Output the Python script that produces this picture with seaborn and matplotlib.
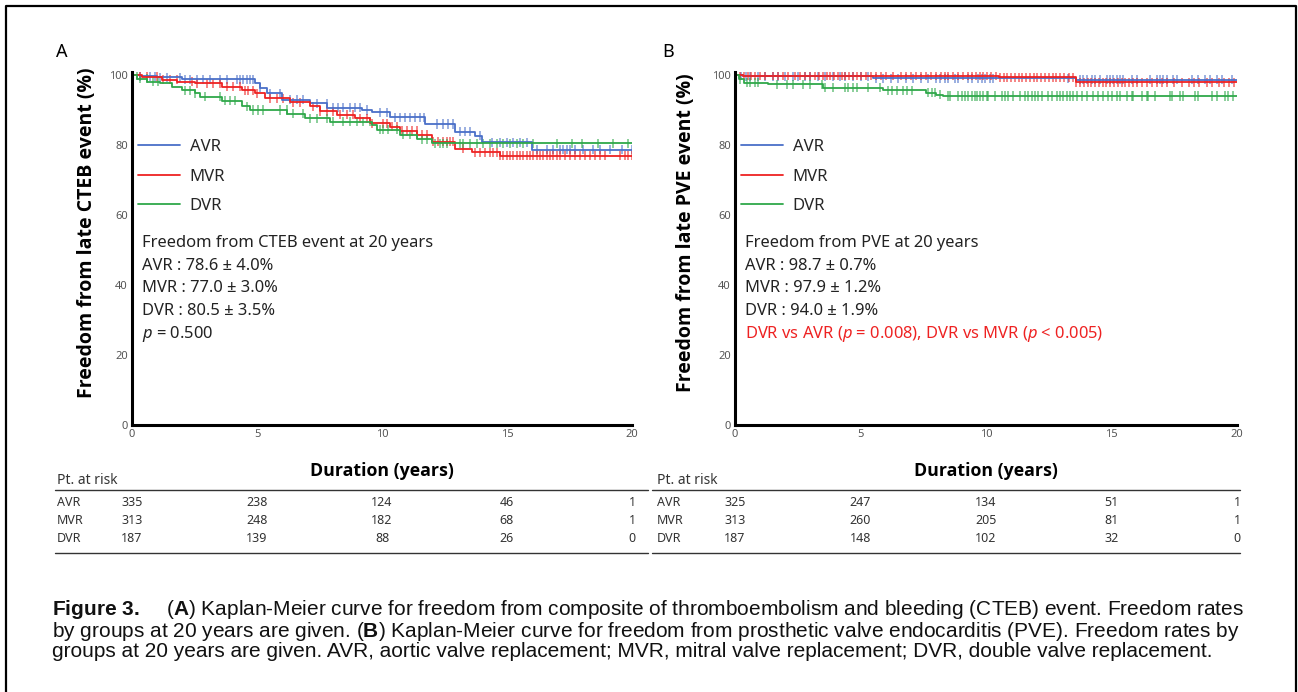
import numpy as np
import pandas as pd
import matplotlib
matplotlib.use("Agg")
import matplotlib.pyplot as plt
import seaborn as sns
from matplotlib.lines import Line2D
from matplotlib import transforms

sns.set_theme(style="white")
plt.rcParams["font.family"] = ["Noto Sans", "DejaVu Sans"]
plt.rcParams["mathtext.fontset"] = "custom"
plt.rcParams["mathtext.rm"] = "Noto Sans"
plt.rcParams["mathtext.it"] = "Noto Sans:italic"
plt.rcParams["mathtext.bf"] = "Liberation Sans:bold"

BOLD_FAMILY = ["Open Sans", "DejaVu Sans"]

# ---------------- data ----------------
groups = ["AVR", "MVR", "DVR"]
colors = {"AVR": "#4a6fc8", "MVR": "#ee2222", "DVR": "#2fa84a"}
x_ticks = [0, 5, 10, 15, 20]
y_ticks = [0, 20, 40, 60, 80, 100]

# Panel A: freedom from late CTEB event
a_avr_t = [0, 0.3, 1.0, 2.0, 4.9, 5.1, 5.4, 6.0, 7.1, 7.8, 9.2, 9.6, 10.3, 11.7, 12.9, 13.7, 14.0, 16.0]
a_avr_s = [100, 99.6, 99.3, 98.8, 97.6, 96.3, 94.8, 93.0, 91.9, 90.7, 90.0, 89.3, 87.9, 86.0, 83.8, 82.6, 80.8, 78.6]
a_mvr_t = [0, 0.4, 1.2, 1.8, 2.5, 3.6, 4.4, 4.9, 5.3, 6.3, 7.1, 7.5, 8.2, 8.9, 9.5, 10.3, 10.7, 11.4, 12.0, 12.9, 13.6, 14.7]
a_mvr_s = [100, 99.5, 98.6, 98.1, 97.6, 96.7, 95.7, 94.8, 93.3, 92.2, 91.1, 89.7, 88.6, 87.6, 86.2, 85.2, 84.0, 82.9, 80.9, 79.0, 77.9, 77.0]
a_dvr_t = [0, 0.2, 0.6, 1.1, 1.6, 2.0, 2.5, 2.7, 3.6, 4.4, 4.7, 6.2, 6.9, 7.9, 9.6, 9.8, 10.7, 11.4, 12.0]
a_dvr_s = [100, 99.0, 98.1, 97.6, 96.7, 95.7, 94.8, 93.8, 92.6, 91.1, 90.0, 89.0, 87.6, 86.7, 85.7, 84.3, 82.9, 81.6, 80.5]

a_avr_cens = [0.32, 0.72, 0.92, 1.12, 1.39, 1.92, 2.12, 2.32, 2.59, 2.85, 3.12, 3.52, 3.79, 4.19, 4.32, 4.45,
              4.59, 4.72, 4.85, 5.12, 5.52, 5.92, 6.32, 6.59, 6.85, 7.39, 7.79, 8.05, 8.25, 8.45, 8.72, 8.92,
              9.12, 9.39, 9.92, 10.19, 10.52, 10.72, 10.92, 11.12, 11.32, 11.52, 11.68, 12.19, 12.45, 12.65,
              12.85, 13.12, 13.32, 13.52, 13.92, 14.39, 14.72, 14.99, 15.25, 15.52, 15.79, 16.19, 16.59, 16.85,
              17.12, 17.25, 17.39, 17.52, 17.72, 18.05, 18.45, 18.72, 19.12, 19.59, 19.98]
a_mvr_cens = [0.32, 0.59, 0.99, 1.25, 1.52, 1.79, 2.39, 2.59, 2.99, 3.25, 3.52, 3.79, 4.05, 4.32, 4.52, 4.65,
              4.85, 4.99, 5.52, 5.79, 6.05, 6.45, 6.72, 7.25, 7.52, 7.79, 8.05, 8.32, 8.59, 8.85, 9.12, 9.39,
              9.59, 10.05, 10.19, 10.39, 10.59, 10.79, 10.99, 11.19, 11.39, 11.59, 11.79, 12.05, 12.25, 12.45,
              12.59, 12.72, 12.85, 13.25, 13.72, 13.92, 14.12, 14.32, 14.45, 14.59, 14.72, 14.85, 14.99, 15.12,
              15.25, 15.39, 15.52, 15.65, 15.79, 15.92, 16.05, 16.19, 16.32, 16.45, 16.59, 16.72, 16.85, 16.99,
              17.12, 17.32, 17.52, 17.72, 17.92, 18.12, 18.32, 18.52, 18.72, 18.92, 19.52, 19.72, 19.85, 19.99]
a_dvr_cens = [0.19, 0.32, 0.59, 0.85, 1.05, 2.12, 2.32, 2.52, 2.92, 3.52, 3.72, 3.92, 4.12, 4.59, 4.85, 5.05,
              5.25, 5.92, 6.19, 6.45, 6.85, 7.12, 7.39, 7.79, 8.05, 8.45, 8.72, 8.99, 9.25, 9.52, 9.92, 10.05,
              10.25, 10.59, 10.85, 11.12, 11.39, 11.59, 11.79, 12.12, 12.32, 12.45, 12.59, 13.12, 13.25, 13.52,
              13.79, 14.05, 14.32, 14.59, 14.85, 15.12, 15.39, 15.65, 16.05, 16.99, 17.59, 17.99, 18.65, 19.25,
              19.85]

# Panel B: freedom from late PVE event
b_avr_t = [0, 0.3, 5.5, 13.6]
b_avr_s = [100, 99.6, 99.1, 98.7]
b_mvr_t = [0, 0.3, 10.5, 13.6]
b_mvr_s = [100, 99.8, 99.4, 97.9]
b_dvr_t = [0, 0.15, 0.35, 1.3, 3.5, 5.9, 7.6, 8.0, 8.3]
b_dvr_s = [100, 98.8, 97.8, 97.3, 96.4, 95.7, 94.9, 94.3, 94.0]

b_avr_cens = [0.25, 0.45, 0.6, 0.9, 1.2, 1.5, 1.7, 2.0, 2.3, 2.5, 2.8, 3.0, 3.3, 3.6, 3.9, 4.2, 4.4, 4.7,
              5.0, 5.3, 5.6, 5.9, 6.2, 6.5, 6.8, 7.1, 7.4, 7.7, 8.0, 8.17, 8.37, 8.50, 8.76, 8.90, 9.30, 9.43,
              9.70, 9.83, 9.96, 10.16, 10.29, 13.28, 13.74, 13.88, 14.01, 14.21, 14.34, 14.54, 14.81, 14.94,
              15.07, 15.20, 15.34, 15.47, 15.80, 16.00, 16.53, 16.80, 16.93, 17.07, 17.20, 17.46, 17.60, 18.19,
              18.46, 18.73, 18.92, 19.19, 19.39, 19.79]
b_mvr_cens = [0.2, 0.35, 0.5, 0.65, 0.8, 1.0, 1.2, 1.5, 1.7, 1.9, 2.1, 2.4, 2.6, 2.8, 3.0, 3.2, 3.35, 3.5,
              3.65, 3.8, 3.95, 4.1, 4.25, 4.4, 4.55, 4.7, 4.85, 5.0, 5.2, 5.4, 5.6, 5.8, 6.0, 6.3, 6.6, 6.8,
              7.0, 7.2, 7.4, 7.6, 7.8, 8.0, 8.2, 8.35, 8.5, 8.7, 8.9, 9.1, 9.3, 9.45, 9.6, 9.75, 9.9, 10.05,
              10.2, 10.4, 10.55, 10.7, 10.85, 11.0, 11.15, 11.3, 11.45, 11.6, 11.75, 11.9, 12.05, 12.2, 12.35,
              12.5, 12.65, 12.8, 12.95, 13.1, 13.3, 13.45, 13.6, 13.75, 13.9, 14.05, 14.2, 14.35, 14.5, 14.65,
              14.8, 14.95, 15.1, 15.25, 15.4, 15.55, 15.7, 15.85, 16.0, 16.2, 16.4, 16.6, 16.8, 17.0, 17.2,
              17.5, 17.8, 18.1, 18.3, 18.5, 18.8, 19.0, 19.3, 19.5, 19.7, 19.9]
b_dvr_cens = [0.20, 0.46, 0.60, 0.80, 0.93, 1.66, 2.06, 2.32, 2.72, 2.99, 3.45, 3.59, 3.92, 4.38, 4.52, 4.71,
              4.85, 5.31, 5.78, 6.11, 6.24, 6.44, 6.71, 6.84, 7.04, 7.70, 7.84, 7.97, 8.17, 8.50, 8.57, 8.90,
              9.03, 9.16, 9.30, 9.43, 9.56, 9.63, 9.76, 9.89, 10.03, 10.09, 10.36, 10.62, 10.76, 10.89, 11.09,
              11.35, 11.55, 11.69, 11.82, 11.95, 12.09, 12.22, 12.48, 12.62, 12.81, 12.95, 13.08, 13.21, 13.35,
              13.48, 13.61, 13.81, 14.01, 14.27, 14.47, 14.67, 14.87, 15.01, 15.20, 15.34, 15.60, 15.80, 15.87,
              16.20, 16.40, 16.47, 16.73, 17.33, 17.40, 17.73, 17.86, 18.33, 18.46, 19.00, 19.19, 19.52, 19.66,
              19.85]

# numbers at risk
a_risk = {"AVR": [335, 238, 124, 46, 1], "MVR": [313, 248, 182, 68, 1], "DVR": [187, 139, 88, 26, 0]}
b_risk = {"AVR": [325, 247, 134, 51, 1], "MVR": [313, 260, 205, 81, 1], "DVR": [187, 148, 102, 32, 0]}

a_ylabel = "Freedom from late CTEB event (%)"
b_ylabel = "Freedom from late PVE event (%)"
xlabel = "Duration (years)"
a_notes = ["Freedom from CTEB event at 20 years", "AVR : 78.6 ± 4.0%", "MVR : 77.0 ± 3.0%",
           "DVR : 80.5 ± 3.5%", "$p$ = 0.500"]
b_notes = ["Freedom from PVE at 20 years", "AVR : 98.7 ± 0.7%", "MVR : 97.9 ± 1.2%", "DVR : 94.0 ± 1.9%"]
b_red_note = "DVR vs AVR ($p$ = 0.008), DVR vs MVR ($p$ < 0.005)"
caption = [
    r"$\mathbf{Figure\ 3.}$    ($\mathbf{A}$) Kaplan-Meier curve for freedom from composite of thromboembolism and bleeding (CTEB) event. Freedom rates",
    r"by groups at 20 years are given. ($\mathbf{B}$) Kaplan-Meier curve for freedom from prosthetic valve endocarditis (PVE). Freedom rates by",
    r"groups at 20 years are given. AVR, aortic valve replacement; MVR, mitral valve replacement; DVR, double valve replacement.",
]

# ---------------- helpers ----------------
def curves_frame(spec, tmax=20):
    rows = []
    for g, (t, s) in spec.items():
        for ti, si in zip(t, s):
            rows.append((g, ti, si))
        rows.append((g, tmax, s[-1]))
    return pd.DataFrame(rows, columns=["group", "time", "surv"])

def censor_frame(spec, cens):
    rows = []
    for g, (t, s) in spec.items():
        t = np.asarray(t); s = np.asarray(s)
        for c in cens[g]:
            idx = np.searchsorted(t, c, side="right") - 1
            rows.append((g, c, s[idx]))
    return pd.DataFrame(rows, columns=["group", "time", "surv"])

W, H = 1298, 692
fig = plt.figure(figsize=(W / 100, H / 100), dpi=100)

def fy(py):
    return 1 - py / H

panels = [
    dict(left=132, right=632, label="A", lx=62, ylx=87,
         spec={"AVR": (a_avr_t, a_avr_s), "MVR": (a_mvr_t, a_mvr_s), "DVR": (a_dvr_t, a_dvr_s)},
         cens={"AVR": a_avr_cens, "MVR": a_mvr_cens, "DVR": a_dvr_cens},
         ylabel=a_ylabel, notes=a_notes, red=None, risk=a_risk, tab=(55, 648), tabx=57),
    dict(left=735, right=1237, label="B", lx=668, ylx=686,
         spec={"AVR": (b_avr_t, b_avr_s), "MVR": (b_mvr_t, b_mvr_s), "DVR": (b_dvr_t, b_dvr_s)},
         cens={"AVR": b_avr_cens, "MVR": b_mvr_cens, "DVR": b_dvr_cens},
         ylabel=b_ylabel, notes=b_notes, red=b_red_note, risk=b_risk, tab=(652, 1240), tabx=657),
]

y0, y100 = 425, 75
ymax = 101
top_px = y0 - (y0 - y100) * ymax / 100

for p in panels:
    wpx = p["right"] - p["left"]
    hpx = y0 - top_px
    ax = fig.add_axes([p["left"] / W, fy(y0), wpx / W, hpx / H])
    df = curves_frame(p["spec"])
    cdf = censor_frame(p["spec"], p["cens"])
    sns.lineplot(data=df, x="time", y="surv", hue="group", hue_order=groups, palette=colors,
                 drawstyle="steps-post", estimator=None, legend=False, linewidth=1.3, ax=ax)
    sns.scatterplot(data=cdf, x="time", y="surv", hue="group", hue_order=groups, palette=colors,
                    marker="|", s=42, linewidth=1.1, alpha=0.7, legend=False, ax=ax)
    ax.set_xlim(0, 20)
    ax.set_ylim(0, ymax)
    ax.set_xticks(x_ticks)
    ax.set_yticks(y_ticks)
    ax.tick_params(length=0, labelsize=8, colors="#555555", pad=3)
    for sp in ["top", "right"]:
        ax.spines[sp].set_visible(False)
    for sp in ["left", "bottom"]:
        ax.spines[sp].set_color("black")
        ax.spines[sp].set_linewidth(2.2)
    ax.set_xlabel(xlabel, fontsize=12.8, fontweight="bold", family=BOLD_FAMILY, color="black")
    ax.xaxis.set_label_coords(0.5, -(462 - y0) / hpx)
    ax.set_ylabel(p["ylabel"], fontsize=14, fontweight="bold", family=BOLD_FAMILY, color="black",
                  va="center")
    ax.yaxis.set_label_coords(-(p["left"] - p["ylx"]) / wpx, (y0 - 233) / hpx)

    handles = [Line2D([0], [0], color=colors[g], lw=1.3) for g in groups]
    ax.legend(handles, groups, loc="upper left",
              bbox_to_anchor=(6 / wpx, (y0 - 139) / hpx),
              frameon=False, fontsize=12, handlelength=2.5, handletextpad=0.6,
              labelspacing=0.82, borderpad=0, borderaxespad=0)

    nx = p["left"] + 10
    ys = [243, 266, 288, 311, 334]
    for txt, py in zip(p["notes"], ys):
        ax.text((nx - p["left"]) / wpx, (y0 - py) / hpx, txt,
                transform=ax.transAxes, fontsize=11.9, color="#222222", va="center", ha="left")
    if p["red"]:
        ax.text((nx - p["left"]) / wpx, (y0 - ys[4]) / hpx, p["red"],
                transform=ax.transAxes, fontsize=11.9, color="#ee2222", va="center", ha="left")

    fig.text(p["lx"] / W, fy(52), p["label"], fontsize=13, ha="center", va="center", color="black")

    # number at risk table
    tr = transforms.blended_transform_factory(ax.transData, fig.transFigure)
    scale = 20 / wpx
    tx = (p["tabx"] - p["left"]) * scale
    fig.text(tx, fy(481), "Pt. at risk", transform=tr, fontsize=10, color="#333333", ha="left", va="center")
    for ly in (490, 553):
        fig.add_artist(Line2D([(p["tab"][0] - p["left"]) * scale, (p["tab"][1] - p["left"]) * scale],
                              [fy(ly), fy(ly)], transform=tr, color="#333333", lw=1.0))
    for g, py in zip(groups, [503, 521, 539]):
        fig.text(tx, fy(py), g, transform=tr, fontsize=9, color="#333333", ha="left", va="center")
        for xv, n in zip(x_ticks, p["risk"][g]):
            fig.text(xv, fy(py), str(n), transform=tr, fontsize=9, color="#333333", ha="center", va="center")

# caption (one multi-line text)
fig.text(52 / W, fy(598), "\n".join(caption), fontsize=15, family="Liberation Sans", color="#111111",
         ha="left", va="top", linespacing=0.94)

# outer frame
fig.add_artist(Line2D([6 / W, 6 / W, 1296 / W, 1296 / W], [0, fy(6), fy(6), 0],
                      transform=fig.transFigure, color="black", lw=1.6))

fig.savefig("out.png", dpi=100)
